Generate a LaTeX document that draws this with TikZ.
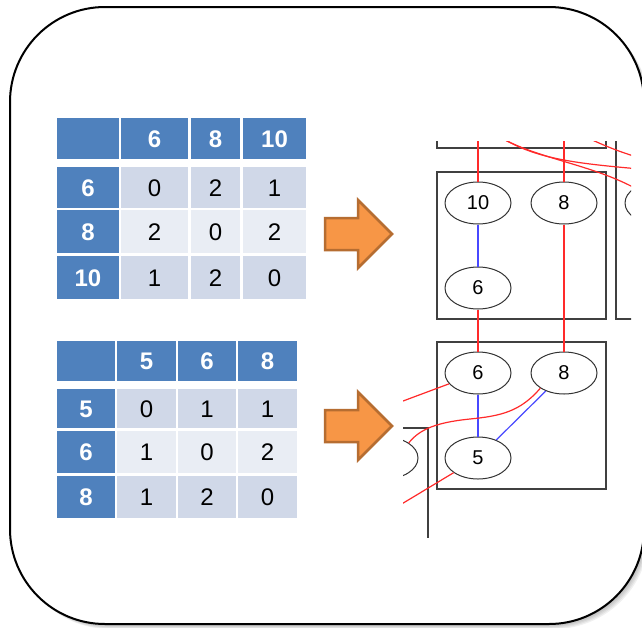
\documentclass[tikz,border=0pt]{standalone}
\usepackage{fontspec}
\usetikzlibrary{shapes.geometric}
\newfontfamily\tabfont{Liberation Sans}
\definecolor{hdrblue}{HTML}{4F81BD}
\definecolor{rowdark}{HTML}{D0D8E8}
\definecolor{rowlight}{HTML}{E9EDF4}
\definecolor{arrfill}{HTML}{F79646}
\definecolor{arrline}{HTML}{B66D31}
\definecolor{edgered}{HTML}{FF2A2A}
\definecolor{edgeblue}{HTML}{4848FF}
\tikzset{
  cell/.style={inner sep=0pt,text height=17pt,text depth=0pt,font=\tabfont\fontsize{24}{24}\selectfont},
  hdr/.style={cell,fill=hdrblue,text=white,font=\tabfont\bfseries\fontsize{24}{24}\selectfont},
  rowA/.style={cell,fill=rowdark},
  rowB/.style={cell,fill=rowlight},
  vtx/.style={ellipse,draw=black!80,line width=1pt,minimum width=66,minimum height=42,inner sep=0pt,font=\tabfont\fontsize{20}{20}\selectfont},
  box/.style={draw=black!75,line width=1.4pt},
  redge/.style={draw=edgered,line width=1.2pt},
  bedge/.style={draw=edgeblue,line width=1.2pt},
  arrowbox/.style={fill=arrfill,draw=arrline,line width=2.5pt},
  frame/.style={draw=black,fill=white,line width=2pt,rounded corners=95},
  blockarrow/.pic={\draw[arrowbox] (0,-16) -- (33,-16) -- (33,-34) -- (67,0) -- (33,34) -- (33,16) -- (0,16) -- cycle;}
}
\begin{document}
\begin{tikzpicture}[x=1pt,y=-1pt]
\useasboundingbox (0,0) rectangle (642,627);
% rounded frame with a soft shadow
\foreach \s in {1,...,5}
  \fill[black,opacity=0.06,rounded corners=95] ([shift={(\s,\s)}]10,7) rectangle ([shift={(\s,\s)}]644,624);
\draw[frame] (10,7) rectangle (644,624);
%
% distance table 6, 8, 10
\foreach \y/\h/\bg/\a/\b/\c/\d [count=\r from 0] in {138.5/41/hdr/{}/6/8/10, 187.5/41/rowA/6/0/2/1, 231.5/43/rowB/8/2/0/2, 277.5/43/rowA/10/1/2/0}{
  \node[hdr,minimum width=62,minimum height=\h] (ta-\r-0) at (88,\y) {\a};
  \node[\bg,minimum width=67,minimum height=\h] (ta-\r-1) at (154.5,\y) {\b};
  \node[\bg,minimum width=49,minimum height=\h] (ta-\r-2) at (215.5,\y) {\c};
  \node[\bg,minimum width=63,minimum height=\h] (ta-\r-3) at (274.5,\y) {\d};
}
% distance table 5, 6, 8
\foreach \y/\h/\bg/\a/\b/\c/\d [count=\r from 0] in {361/40/hdr/{}/5/6/8, 408.5/39/rowA/5/0/1/1, 452/42/rowB/6/1/0/2, 497/42/rowA/8/1/2/0}{
  \node[hdr,minimum width=58,minimum height=\h] (tb-\r-0) at (86,\y) {\a};
  \node[\bg,minimum width=59,minimum height=\h] (tb-\r-1) at (146.5,\y) {\b};
  \node[\bg,minimum width=58,minimum height=\h] (tb-\r-2) at (207,\y) {\c};
  \node[\bg,minimum width=59,minimum height=\h] (tb-\r-3) at (267.5,\y) {\d};
}
%
\pic at (325,234) {blockarrow};
\pic at (325,426) {blockarrow};
%
% clustered graph
\begin{scope}
\clip (403,141) rectangle (631,537);
\draw[box] (437,130) |- (606,148) -- (606,130);
\draw[box] (437,172) rectangle (606,319);
\draw[box] (616,130) |- (640,319);
\draw[box] (437,342) rectangle (606,489);
\draw[box] (390,428) -| (428,545);
\node[vtx] (a10) at (478,203) {10};
\node[vtx] (a8) at (564,203) {8};
\node[vtx] (a6) at (478,288) {6};
\node[vtx] (b6) at (478,373) {6};
\node[vtx] (b8) at (564,373) {8};
\node[vtx] (b5) at (478,458) {5};
\node[vtx] (cR) at (658,203) {};
\node[vtx] (cL) at (385,458) {};
\coordinate (up10) at (478,135);
\coordinate (up8) at (564,135);
\coordinate (n1) at (500,137);
\coordinate (n2) at (588,138);
\coordinate (e1) at (640,169);
\coordinate (e2) at (640,158);
\coordinate (w6) at (395,404);
\coordinate (w5) at (395,508);
\draw[bedge] (a10) -- (a6);
\draw[bedge] (b6) -- (b5);
\draw[bedge] (b8) -- (b5);
\draw[redge] (a10) -- (up10);
\draw[redge] (a8) -- (up8);
\draw[redge] (a6) -- (b6);
\draw[redge] (a8) -- (b8);
\draw[redge] (b6) -- (w6);
\draw[redge] (b5) -- (w5);
\draw[redge] (b8.south west) .. controls (520,412) and (500,416) .. (470,419) .. controls (430,423) and (418,432) .. (cL.north east);
\draw[redge] (n1) .. controls (535,158) and (570,163) .. (e1);
\draw[redge] (n1) .. controls (535,158) and (590,164) .. (cR.north west);
\draw[redge] (n2) .. controls (605,146) and (620,152) .. (e2);
\end{scope}
\end{tikzpicture}
\end{document}
